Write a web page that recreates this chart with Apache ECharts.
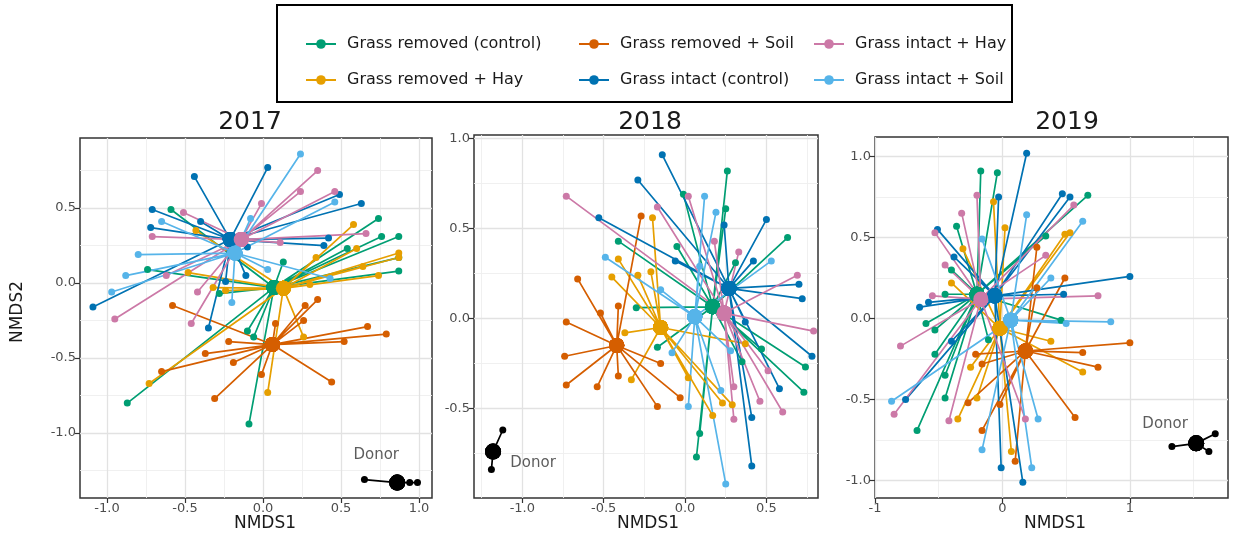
<!DOCTYPE html>
<html>
<head>
<meta charset="utf-8">
<script src="https://cdn.jsdelivr.net/npm/echarts@6/dist/echarts.min.js"></script>
<style>
  html, body { margin: 0; padding: 0; background: #ffffff; }
  #chart { width: 1233px; height: 551px; }
</style>
</head>
<body>
<div id="chart"></div>
<script>
// ---- Treatment groups -------------------------------------------------
const groupNames = [
  'Grass removed (control)', 'Grass removed + Hay', 'Grass removed + Soil',
  'Grass intact (control)', 'Grass intact + Hay', 'Grass intact + Soil'
];
const years = ['2017', '2018', '2019'];

// ---- 2017: group centroids (NMDS1, NMDS2), same order as groupNames ---
const centroids2017 = [[0.07, -0.03], [0.13, -0.035], [0.06, -0.41], [-0.21, 0.29], [-0.14, 0.29], [-0.18, 0.20]];
const removedControl2017 = [[0.74, 0.43], [0.76, 0.31], [0.87, 0.31], [0.54, 0.23], [0.87, 0.08], [0.87, 0.17], [0.13, 0.14], [-0.59, 0.49], [-0.74, 0.09], [-0.28, -0.07], [-0.87, -0.80], [-0.09, -0.94], [-0.10, -0.32], [-0.06, -0.36]];
const removedHay2017 = [[0.58, 0.39], [0.60, 0.23], [0.34, 0.17], [0.87, 0.20], [0.87, 0.17], [0.64, 0.11], [0.74, 0.05], [0.30, -0.01], [-0.43, 0.35], [-0.32, -0.03], [-0.24, -0.05], [-0.48, 0.07], [-0.73, -0.67], [0.03, -0.73], [0.26, -0.36]];
const removedSoil2017 = [[-0.58, -0.15], [-0.22, -0.39], [-0.37, -0.47], [-0.65, -0.59], [-0.19, -0.53], [-0.31, -0.77], [0.08, -0.27], [0.26, -0.25], [0.67, -0.29], [0.79, -0.34], [0.52, -0.39], [-0.01, -0.61], [0.44, -0.66], [0.35, -0.11], [0.27, -0.15]];
const intactControl2017 = [[-0.44, 0.71], [-0.71, 0.49], [-0.40, 0.41], [-0.72, 0.37], [-0.10, 0.24], [-0.11, 0.05], [-0.24, 0.01], [-1.09, -0.16], [0.03, 0.77], [0.49, 0.59], [0.63, 0.53], [0.42, 0.30], [0.39, 0.25], [-0.35, -0.30]];
const intactHay2017 = [[-0.51, 0.47], [-0.71, 0.31], [-0.62, 0.05], [-0.42, -0.06], [0.35, 0.75], [0.24, 0.61], [0.46, 0.61], [0.66, 0.33], [-0.01, 0.53], [0.11, 0.27], [-0.95, -0.24], [-0.46, -0.27]];
const intactSoil2017 = [[0.24, 0.86], [0.46, 0.54], [-0.65, 0.41], [-0.80, 0.19], [-0.88, 0.05], [-0.97, -0.06], [-0.20, -0.13], [0.03, 0.09], [0.43, 0.03], [-0.08, 0.43]];
const donorCentroid2017 = [0.86, -1.33];
const donor2017 = [[0.65, -1.31], [0.94, -1.33], [0.99, -1.33]];

// ---- 2018 --------------------------------------------------------------
const centroids2018 = [[0.17, 0.065], [-0.15, -0.05], [-0.42, -0.15], [0.27, 0.167], [0.24, 0.03], [0.06, 0.01]];
const removedControl2018 = [[0.26, 0.82], [-0.01, 0.69], [0.25, 0.61], [-0.05, 0.40], [0.31, 0.31], [0.63, 0.45], [-0.41, 0.43], [-0.30, 0.06], [-0.17, -0.16], [0.47, -0.17], [0.35, -0.24], [0.74, -0.27], [0.73, -0.41], [0.09, -0.64], [0.07, -0.77]];
const removedHay2018 = [[-0.20, 0.56], [-0.21, 0.26], [-0.41, 0.33], [-0.45, 0.23], [-0.29, 0.24], [-0.37, -0.08], [-0.33, -0.34], [0.37, -0.14], [0.02, -0.33], [0.23, -0.47], [0.29, -0.48], [0.17, -0.54]];
const removedSoil2018 = [[-0.73, -0.02], [-0.74, -0.21], [-0.73, -0.37], [-0.54, -0.38], [-0.41, -0.32], [-0.66, 0.22], [-0.27, 0.57], [-0.52, 0.03], [-0.41, 0.07], [-0.15, -0.25], [-0.03, -0.44], [-0.17, -0.49]];
const intactControl2018 = [[-0.14, 0.91], [-0.29, 0.77], [-0.53, 0.56], [0.24, 0.52], [0.50, 0.55], [0.42, 0.32], [0.70, 0.19], [0.72, 0.11], [-0.06, 0.32], [0.37, -0.02], [0.78, -0.21], [0.58, -0.39], [0.41, -0.55], [0.41, -0.82]];
const intactHay2018 = [[-0.73, 0.68], [0.02, 0.68], [-0.17, 0.62], [0.18, 0.43], [0.33, 0.37], [0.69, 0.24], [0.79, -0.07], [0.51, -0.29], [0.30, -0.38], [0.46, -0.46], [0.60, -0.52], [0.30, -0.56]];
const intactSoil2018 = [[-0.49, 0.34], [0.12, 0.68], [0.19, 0.59], [0.09, 0.29], [0.53, 0.32], [-0.15, 0.16], [-0.08, -0.19], [0.02, -0.49], [0.22, -0.40], [0.25, -0.92], [0.28, -0.18]];
const donorCentroid2018 = [-1.18, -0.74];
const donor2018 = [[-1.12, -0.62], [-1.19, -0.84]];

// ---- 2019 --------------------------------------------------------------
const centroids2019 = [[-0.20, 0.15], [-0.02, -0.06], [0.18, -0.20], [-0.06, 0.14], [-0.17, 0.12], [0.065, -0.01]];
const removedControl2019 = [[-0.17, 0.91], [-0.04, 0.90], [-0.36, 0.57], [-0.40, 0.30], [-0.45, 0.15], [0.67, 0.76], [0.34, 0.51], [-0.60, -0.03], [-0.53, -0.07], [-0.53, -0.22], [-0.45, -0.35], [-0.45, -0.49], [-0.67, -0.69], [-0.11, -0.13], [0.46, -0.01]];
const removedHay2019 = [[-0.07, 0.72], [0.02, 0.56], [-0.31, 0.43], [-0.40, 0.22], [0.49, 0.52], [0.53, 0.53], [-0.25, -0.30], [-0.20, -0.49], [-0.35, -0.62], [0.07, -0.82], [0.38, -0.14], [0.63, -0.33]];
const removedSoil2019 = [[0.27, 0.44], [0.49, 0.25], [0.27, 0.19], [0.10, -0.88], [-0.21, -0.22], [-0.16, -0.28], [-0.27, -0.52], [-0.16, -0.69], [-0.02, -0.53], [1.00, -0.15], [0.63, -0.21], [0.75, -0.30], [0.57, -0.61]];
const intactControl2019 = [[0.19, 1.02], [-0.03, 0.75], [-0.51, 0.55], [-0.38, 0.38], [-0.65, 0.07], [-0.58, 0.10], [0.47, 0.77], [0.53, 0.75], [1.00, 0.26], [0.48, 0.15], [-0.76, -0.50], [-0.40, -0.14], [-0.01, -0.92], [0.16, -1.01]];
const intactHay2019 = [[-0.20, 0.76], [-0.32, 0.65], [-0.53, 0.53], [-0.45, 0.33], [-0.55, 0.14], [0.56, 0.70], [0.34, 0.39], [0.75, 0.14], [-0.80, -0.17], [-0.85, -0.59], [-0.42, -0.63], [0.18, -0.62]];
const intactSoil2019 = [[-0.16, 0.49], [0.19, 0.64], [0.63, 0.60], [0.38, 0.25], [-0.87, -0.51], [-0.16, -0.81], [0.23, -0.92], [0.85, -0.02], [0.50, -0.03], [0.28, -0.62]];
const donorCentroid2019 = [1.52, -0.77];
const donor2019 = [[1.33, -0.79], [1.67, -0.71], [1.62, -0.82]];

// ---- Axis breaks per panel (major labelled, minor grid only) -----------
const xMajor = [[-1, -0.5, 0, 0.5, 1], [-1, -0.5, 0, 0.5], [-1, 0, 1]];
const xMinor = [[-0.75, -0.25, 0.25, 0.75], [-1.25, -0.75, -0.25, 0.25, 0.75], [-0.5, 0.5, 1.5]];
const yMajor = [[-1, -0.5, 0, 0.5], [-0.5, 0, 0.5, 1], [-1, -0.5, 0, 0.5, 1]];
const yMinor = [[-1.25, -0.75, -0.25, 0.25, 0.75], [-0.75, -0.25, 0.25, 0.75], [-0.75, -0.25, 0.25, 0.75]];

// ---- Drawing ---------------------------------------------------------------
const colors = ['#009E73', '#E69F00', '#D55E00', '#0072B2', '#CC79A7', '#56B4E9'];
const FONT = 'DejaVu Sans';

const panelSites = [
  [removedControl2017, removedHay2017, removedSoil2017, intactControl2017, intactHay2017, intactSoil2017],
  [removedControl2018, removedHay2018, removedSoil2018, intactControl2018, intactHay2018, intactSoil2018],
  [removedControl2019, removedHay2019, removedSoil2019, intactControl2019, intactHay2019, intactSoil2019]
];
const panelCentroids = [centroids2017, centroids2018, centroids2019];
const donorCentroids = [donorCentroid2017, donorCentroid2018, donorCentroid2019];
const donorSites = [donor2017, donor2018, donor2019];

const grids = [
  { left: 80, top: 138, width: 352, height: 360 },
  { left: 474, top: 135, width: 344, height: 363 },
  { left: 875, top: 137, width: 353, height: 361 }
];
const xRange = [[-1.173, 1.083], [-1.297, 0.817], [-1.0, 1.77]];
const yRange = [[-1.433, 0.967], [-0.998, 1.02], [-1.107, 1.12]];
const xFmt = [v => v.toFixed(1), v => v.toFixed(1), v => String(Math.round(v))];

const SITE_SIZE = 7, HUB_SIZE = 15;

function axisPair(dim, i) {
  const range = dim === 'x' ? xRange[i] : yRange[i];
  const major = dim === 'x' ? xMajor[i] : yMajor[i];
  const minor = dim === 'x' ? xMinor[i] : yMinor[i];
  const f = dim === 'x' ? xFmt[i] : (v => v.toFixed(1));
  const base = { type: 'value', gridIndex: i, min: range[0], max: range[1] };
  return [
    Object.assign({}, base, {
      axisLine: { show: false, onZero: false },
      axisTick: { show: true, customValues: major, length: 5, inside: false,
        lineStyle: { color: '#333333', width: 1.2 } },
      axisLabel: { show: true, customValues: major, formatter: v => f(v),
        color: '#4d4d4d', fontSize: 13, fontFamily: FONT, margin: 4 },
      splitLine: { show: true, lineStyle: { color: '#e2e2e2', width: 1.3 } },
      z: 1
    }),
    Object.assign({}, base, {
      axisLine: { show: false, onZero: false },
      axisTick: { show: false, customValues: minor },
      axisLabel: { show: false },
      splitLine: { show: true, lineStyle: { color: '#eeeeee', width: 0.9 } },
      z: 0
    })
  ];
}

const xAxis = [], yAxis = [];
for (let i = 0; i < 3; i++) {
  xAxis.push(...axisPair('x', i));
  yAxis.push(...axisPair('y', i));
}

function spokes(c, sites) {
  const out = [];
  sites.forEach(p => { out.push([c[0], c[1], HUB_SIZE]); out.push([p[0], p[1], SITE_SIZE]); });
  out.push([c[0], c[1], HUB_SIZE]);
  return out;
}

const series = [];
for (let i = 0; i < 3; i++) {
  const ax = 2 * i;
  for (let g = 0; g < 6; g++) {
    series.push({
      type: 'line', name: groupNames[g], xAxisIndex: ax, yAxisIndex: ax,
      data: spokes(panelCentroids[i][g], panelSites[i][g]),
      symbol: 'circle', symbolSize: v => v[2], showAllSymbol: true,
      lineStyle: { color: colors[g], width: 1.7 },
      itemStyle: { color: colors[g] },
      emphasis: { disabled: true }, animation: false, z: 2
    });
  }
}
// group centroids drawn above the spokes
for (let i = 0; i < 3; i++) {
  for (let g = 0; g < 6; g++) {
    series.push({
      type: 'scatter', name: groupNames[g], xAxisIndex: 2 * i, yAxisIndex: 2 * i,
      data: [panelCentroids[i][g]], symbolSize: HUB_SIZE,
      itemStyle: { color: colors[g], opacity: 1 }, animation: false, z: 3
    });
  }
}
// donor communities
const donorLabelOffset = [[-21, -27], [40, 12], [-31, -19]];
for (let i = 0; i < 3; i++) {
  series.push({
    type: 'line', name: 'Donor', xAxisIndex: 2 * i, yAxisIndex: 2 * i,
    data: spokes(donorCentroids[i], donorSites[i]),
    symbol: 'circle', symbolSize: v => v[2] === HUB_SIZE ? 16 : 7, showAllSymbol: true,
    lineStyle: { color: '#000000', width: 1.7 }, itemStyle: { color: '#000000' },
    animation: false, z: 2
  });
  series.push({
    type: 'scatter', name: 'Donor', xAxisIndex: 2 * i, yAxisIndex: 2 * i,
    data: [donorCentroids[i]], symbolSize: 16, itemStyle: { color: '#000000' },
    label: { show: true, formatter: 'Donor', position: 'inside', offset: donorLabelOffset[i],
      color: '#333333', fontSize: 15, fontFamily: FONT },
    animation: false, z: 3
  });
}

const legendCols = [[groupNames[0], groupNames[1]], [groupNames[2], groupNames[3]], [groupNames[4], groupNames[5]]];
const legendLeft = [300, 573, 808];
const legend = legendCols.map((names, k) => ({
  data: names, orient: 'vertical', left: legendLeft[k], top: 31,
  itemWidth: 30, itemHeight: 12, itemGap: 20, selectedMode: false,
  textStyle: { fontSize: 16, fontFamily: FONT, color: '#1a1a1a', padding: [0, 0, 0, 6] }
}));

const titleX = [250, 650, 1067];
const nameX = [265, 648, 1055];
const graphic = [
  { type: 'rect', shape: { x: 277, y: 5, width: 735, height: 97 },
    style: { fill: '#ffffff', stroke: '#000000', lineWidth: 2 }, z: -1 }
];
years.forEach((yr, i) => {
  graphic.push({ type: 'text', x: titleX[i], y: 122,
    style: { text: yr, font: '25px "DejaVu Sans"', fill: '#1a1a1a', align: 'center', verticalAlign: 'middle' } });
  graphic.push({ type: 'text', x: nameX[i], y: 524,
    style: { text: 'NMDS1', font: '17px "DejaVu Sans"', fill: '#1a1a1a', align: 'center', verticalAlign: 'middle' } });
});
graphic.push({ type: 'text', x: 18, y: 312, rotation: Math.PI / 2,
  style: { text: 'NMDS2', font: '17px "DejaVu Sans"', fill: '#1a1a1a', align: 'center', verticalAlign: 'middle' } });

const chart = echarts.init(document.getElementById('chart'), null, { renderer: 'canvas' });
chart.setOption({
  animation: false,
  backgroundColor: '#ffffff',
  grid: grids.map(g => Object.assign({ show: true, borderColor: '#333333', borderWidth: 1.5, backgroundColor: 'transparent' }, g)),
  xAxis, yAxis, series, legend, graphic
});
</script>
</body>
</html>
